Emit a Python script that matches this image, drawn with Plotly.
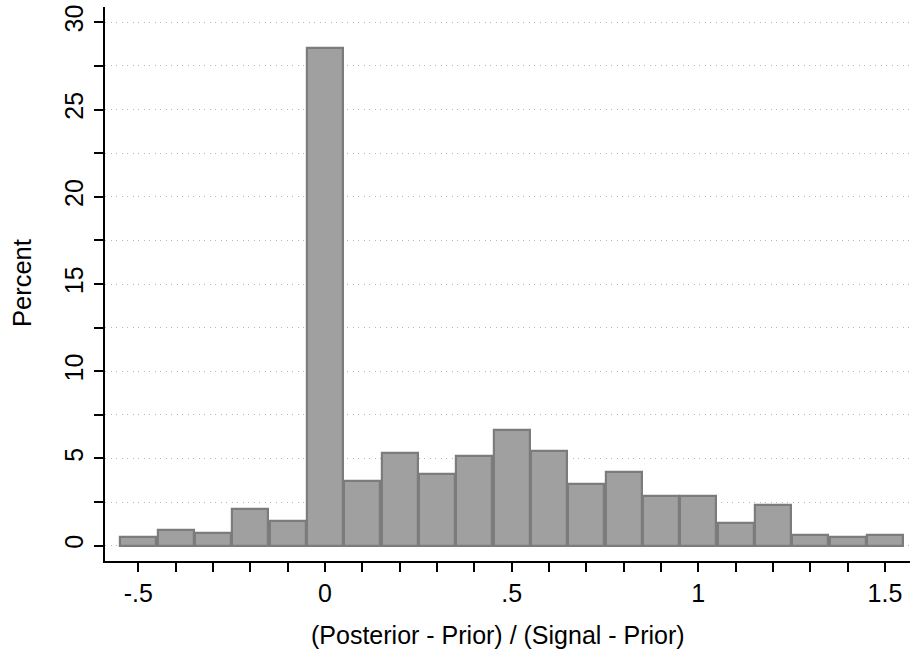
import plotly.graph_objects as go

# Data
bin_centers = [-0.5, -0.4, -0.3, -0.2, -0.1, 0.0, 0.1, 0.2, 0.3, 0.4, 0.5,
               0.6, 0.7, 0.8, 0.9, 1.0, 1.1, 1.2, 1.3, 1.4, 1.5]
percent = [0.50, 0.88, 0.73, 2.10, 1.41, 28.55, 3.71, 5.31, 4.09, 5.14, 6.61,
           5.41, 3.53, 4.22, 2.87, 2.87, 1.30, 2.33, 0.59, 0.52, 0.59]
x_tick_vals = [-0.5, 0, 0.5, 1, 1.5]
x_tick_text = ["-.5", "0", ".5", "1", "1.5"]
y_tick_vals = [0, 5, 10, 15, 20, 25, 30]
y_tick_text = ["0", "5", "10", "15", "20", "25", "30"]

FONT = "Liberation Sans, Arial, sans-serif"
FS = 25
GRID = dict(showgrid=True, gridcolor="#b4b4b4", gridwidth=1, griddash="1px,4.5px")

fig = go.Figure()
fig.add_trace(go.Bar(
    x=bin_centers, y=percent, width=0.096,
    marker=dict(color="#a0a0a0", line=dict(color="#7c7c7c", width=2.2)),
    showlegend=False, hoverinfo="x+y",
))

W, H = 912, 651
ml, mr, mt, mb = 105, 2, 7, 90

fig.update_layout(
    width=W, height=H,
    margin=dict(l=ml, r=mr, t=mt, b=mb, pad=0),
    paper_bgcolor="white", plot_bgcolor="white",
    font=dict(family=FONT, color="black", size=FS),
    bargap=0,
    xaxis=dict(
        range=[-0.5893, 1.567],
        tickmode="array", tickvals=x_tick_vals, ticktext=x_tick_text,
        ticks="outside", ticklen=9, tickwidth=1.5, tickcolor="black",
        tickfont=dict(family=FONT, size=FS, color="black"),
        showline=True, linecolor="black", linewidth=1.5,
        showgrid=False, zeroline=False,
        minor=dict(tickmode="linear", tick0=0, dtick=0.1, ticks="outside",
                   ticklen=9, tickwidth=1.5, tickcolor="black", showgrid=False),
    ),
    yaxis=dict(
        range=[-0.88, 30.88],
        tickmode="array", tickvals=y_tick_vals, ticktext=y_tick_text,
        tickangle=-90,
        ticks="outside", ticklen=9, tickwidth=1.5, tickcolor="black",
        tickfont=dict(family=FONT, size=FS, color="black"),
        ticklabelstandoff=1,
        showline=True, linecolor="black", linewidth=1.5,
        zeroline=False, **GRID,
        minor=dict(tickmode="linear", tick0=0, dtick=2.5, ticks="outside",
                   ticklen=9, tickwidth=1.5, tickcolor="black", **GRID),
    ),
    annotations=[
        dict(text="Percent", xref="paper", yref="paper",
             x=(22 - ml) / (W - ml - mr), y=(H - mb - 283) / (H - mb - mt),
             textangle=-90, showarrow=False, xanchor="center", yanchor="middle",
             font=dict(family=FONT, size=FS + 0.5, color="black")),
        dict(text="(Posterior - Prior) / (Signal - Prior)", xref="paper", yref="paper",
             x=(497.5 - ml) / (W - ml - mr), y=(H - mb - 635) / (H - mb - mt),
             showarrow=False, xanchor="center", yanchor="middle",
             font=dict(family=FONT, size=FS, color="black")),
    ],
)

fig.write_html("out.html", config={"displayModeBar": False},
               post_script="document.body.style.margin='0px';")
